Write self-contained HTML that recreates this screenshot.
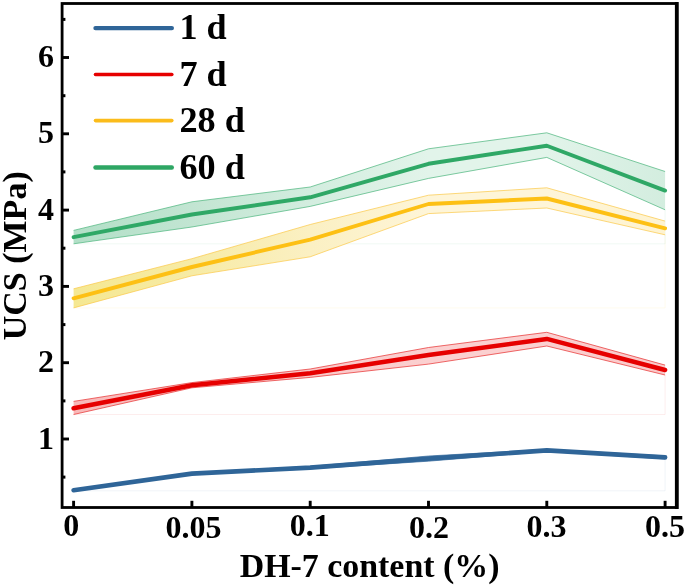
<!DOCTYPE html>
<html><head><meta charset="utf-8"><title>UCS vs DH-7 content</title>
<style>
html,body{margin:0;padding:0;background:#fff;}
body{width:685px;height:587px;overflow:hidden;}
svg{display:block;}
text{font-family:"Liberation Serif","DejaVu Serif",serif;font-weight:bold;fill:#000;}
</style></head><body>
<svg width="685" height="587" viewBox="0 0 685 587">
<rect x="0" y="0" width="685" height="587" fill="#ffffff"/>

<defs>
<linearGradient id="g_green" gradientUnits="userSpaceOnUse" x1="73.6" y1="0" x2="665.1" y2="0">
<stop offset="0.0" stop-color="rgb(178,223,199)"/>
<stop offset="0.2" stop-color="rgb(194,229,210)"/>
<stop offset="0.4" stop-color="rgb(211,237,223)"/>
<stop offset="0.6" stop-color="rgb(226,244,234)"/>
<stop offset="0.8" stop-color="rgb(226,244,234)"/>
<stop offset="1.0" stop-color="rgb(211,237,223)"/>
</linearGradient>
<linearGradient id="g_yellow" gradientUnits="userSpaceOnUse" x1="73.6" y1="0" x2="665.1" y2="0">
<stop offset="0.0" stop-color="rgb(245,232,146)"/>
<stop offset="0.2" stop-color="rgb(247,235,165)"/>
<stop offset="0.4" stop-color="rgb(251,240,195)"/>
<stop offset="0.6" stop-color="rgb(254,245,216)"/>
<stop offset="0.8" stop-color="rgb(254,245,216)"/>
<stop offset="1.0" stop-color="rgb(254,243,208)"/>
</linearGradient>
<linearGradient id="g_red" gradientUnits="userSpaceOnUse" x1="73.6" y1="0" x2="665.1" y2="0">
<stop offset="0.0" stop-color="rgb(248,185,185)"/>
<stop offset="0.2" stop-color="rgb(249,195,195)"/>
<stop offset="0.4" stop-color="rgb(250,200,200)"/>
<stop offset="0.6" stop-color="rgb(251,208,208)"/>
<stop offset="0.8" stop-color="rgb(251,208,208)"/>
<stop offset="1.0" stop-color="rgb(250,200,200)"/>
</linearGradient>
<linearGradient id="g_blue" gradientUnits="userSpaceOnUse" x1="73.6" y1="0" x2="665.1" y2="0">
<stop offset="0.0" stop-color="rgb(150,180,210)"/>
<stop offset="0.2" stop-color="rgb(150,180,210)"/>
<stop offset="0.4" stop-color="rgb(150,180,210)"/>
<stop offset="0.6" stop-color="rgb(150,180,210)"/>
<stop offset="0.8" stop-color="rgb(150,180,210)"/>
<stop offset="1.0" stop-color="rgb(150,180,210)"/>
</linearGradient>
</defs>
<polyline points="73.6,243.8 665.1,243.8 665.1,209.8" fill="none" stroke="#2fa866" stroke-opacity="0.07" stroke-width="1"/>
<polygon points="73.6,230.4 191.9,201.8 310.2,187.0 428.5,148.8 546.8,132.8 665.1,171.5 665.1,209.8 546.8,157.4 428.5,178.4 310.2,206.4 191.9,227.0 73.6,243.8" fill="url(#g_green)" stroke="none"/>
<polyline points="73.6,230.4 191.9,201.8 310.2,187.0 428.5,148.8 546.8,132.8 665.1,171.5" fill="none" stroke="#4db57d" stroke-opacity="0.9" stroke-width="0.8"/>
<polyline points="73.6,243.8 191.9,227.0 310.2,206.4 428.5,178.4 546.8,157.4 665.1,209.8" fill="none" stroke="#4db57d" stroke-opacity="0.9" stroke-width="0.8"/>
<polyline points="73.6,237.2 191.9,214.5 310.2,197.3 428.5,163.8 546.8,145.7 665.1,190.6" fill="none" stroke="#2fa866" stroke-width="3.9" stroke-linecap="round" stroke-linejoin="round"/>
<polyline points="73.6,307.9 665.1,307.9 665.1,234.8" fill="none" stroke="#fdc014" stroke-opacity="0.07" stroke-width="1"/>
<polygon points="73.6,288.8 191.9,258.7 310.2,224.5 428.5,195.2 546.8,187.8 665.1,221.1 665.1,234.8 546.8,208.0 428.5,213.6 310.2,256.8 191.9,275.8 73.6,307.9" fill="url(#g_yellow)" stroke="none"/>
<polyline points="73.6,288.8 191.9,258.7 310.2,224.5 428.5,195.2 546.8,187.8 665.1,221.1" fill="none" stroke="#fbc84a" stroke-opacity="0.9" stroke-width="0.8"/>
<polyline points="73.6,307.9 191.9,275.8 310.2,256.8 428.5,213.6 546.8,208.0 665.1,234.8" fill="none" stroke="#fbc84a" stroke-opacity="0.9" stroke-width="0.8"/>
<polyline points="73.6,298.3 191.9,267.0 310.2,239.6 428.5,204.0 546.8,198.5 665.1,228.3" fill="none" stroke="#fdc014" stroke-width="3.9" stroke-linecap="round" stroke-linejoin="round"/>
<polyline points="73.6,414.5 665.1,414.5 665.1,375.0" fill="none" stroke="#e60000" stroke-opacity="0.07" stroke-width="1"/>
<polygon points="73.6,401.4 191.9,382.6 310.2,369.0 428.5,347.5 546.8,332.3 665.1,365.1 665.1,375.0 546.8,346.0 428.5,364.1 310.2,377.4 191.9,387.8 73.6,414.5" fill="url(#g_red)" stroke="none"/>
<polyline points="73.6,401.4 191.9,382.6 310.2,369.0 428.5,347.5 546.8,332.3 665.1,365.1" fill="none" stroke="#e83030" stroke-opacity="0.9" stroke-width="0.8"/>
<polyline points="73.6,414.5 191.9,387.8 310.2,377.4 428.5,364.1 546.8,346.0 665.1,375.0" fill="none" stroke="#e83030" stroke-opacity="0.9" stroke-width="0.8"/>
<polyline points="73.6,408.2 191.9,385.2 310.2,373.2 428.5,355.0 546.8,338.9 665.1,370.0" fill="none" stroke="#e60000" stroke-width="4.5" stroke-linecap="round" stroke-linejoin="round"/>
<polyline points="73.6,490.8 665.1,490.8 665.1,458.9" fill="none" stroke="#2f6598" stroke-opacity="0.07" stroke-width="1"/>
<polygon points="73.6,489.6 191.9,472.6 310.2,466.4 428.5,456.0 546.8,449.4 665.1,455.9 665.1,458.9 546.8,451.4 428.5,461.2 310.2,468.8 191.9,474.6 73.6,490.8" fill="url(#g_blue)" stroke="none"/>
<polyline points="73.6,489.6 191.9,472.6 310.2,466.4 428.5,456.0 546.8,449.4 665.1,455.9" fill="none" stroke="#2f6598" stroke-opacity="0.85" stroke-width="0.8"/>
<polyline points="73.6,490.8 191.9,474.6 310.2,468.8 428.5,461.2 546.8,451.4 665.1,458.9" fill="none" stroke="#2f6598" stroke-opacity="0.85" stroke-width="0.8"/>
<polyline points="73.6,490.2 191.9,473.6 310.2,467.6 428.5,458.6 546.8,450.4 665.1,457.4" fill="none" stroke="#2f6598" stroke-width="4.6" stroke-linecap="round" stroke-linejoin="round"/>
<g stroke="#000" fill="none">
<rect x="62.1" y="3.5" width="615" height="504" stroke-width="2.8"/>
<line x1="676.7" y1="2.1" x2="676.7" y2="508.9" stroke-width="3.6"/>
<line x1="63" y1="439.0" x2="69" y2="439.0" stroke-width="2.9"/>
<line x1="63" y1="362.7" x2="69" y2="362.7" stroke-width="2.9"/>
<line x1="63" y1="286.4" x2="69" y2="286.4" stroke-width="2.9"/>
<line x1="63" y1="210.1" x2="69" y2="210.1" stroke-width="2.9"/>
<line x1="63" y1="133.8" x2="69" y2="133.8" stroke-width="2.9"/>
<line x1="63" y1="57.5" x2="69" y2="57.5" stroke-width="2.9"/>
<line x1="63" y1="477.1" x2="65.4" y2="477.1" stroke-width="3"/>
<line x1="63" y1="400.9" x2="65.4" y2="400.9" stroke-width="3"/>
<line x1="63" y1="324.6" x2="65.4" y2="324.6" stroke-width="3"/>
<line x1="63" y1="248.2" x2="65.4" y2="248.2" stroke-width="3"/>
<line x1="63" y1="171.9" x2="65.4" y2="171.9" stroke-width="3"/>
<line x1="63" y1="95.7" x2="65.4" y2="95.7" stroke-width="3"/>
<line x1="63" y1="19.4" x2="65.4" y2="19.4" stroke-width="3"/>
<line x1="73.6" y1="507" x2="73.6" y2="500.8" stroke-width="2.9"/>
<line x1="191.9" y1="507" x2="191.9" y2="500.8" stroke-width="2.9"/>
<line x1="310.2" y1="507" x2="310.2" y2="500.8" stroke-width="2.9"/>
<line x1="428.5" y1="507" x2="428.5" y2="500.8" stroke-width="2.9"/>
<line x1="546.8" y1="507" x2="546.8" y2="500.8" stroke-width="2.9"/>
<line x1="665.1" y1="507" x2="665.1" y2="500.8" stroke-width="2.9"/>
</g>
<text x="53.9" y="448.6" font-size="32" text-anchor="end">1</text>
<text x="53.9" y="371.8" font-size="32" text-anchor="end">2</text>
<text x="53.9" y="295.6" font-size="32" text-anchor="end">3</text>
<text x="53.9" y="219.5" font-size="32" text-anchor="end">4</text>
<text x="53.9" y="143.1" font-size="32" text-anchor="end">5</text>
<text x="53.9" y="66.6" font-size="32" text-anchor="end">6</text>
<text x="71.3" y="536.3" font-size="32" text-anchor="middle">0</text>
<text x="193.4" y="538.0" font-size="32" text-anchor="middle">0.05</text>
<text x="309.7" y="536.3" font-size="32" text-anchor="middle">0.1</text>
<text x="429.0" y="538.0" font-size="32" text-anchor="middle">0.2</text>
<text x="546.5" y="537.4" font-size="32" text-anchor="middle">0.3</text>
<text x="664.9" y="537.4" font-size="32" text-anchor="middle">0.5</text>
<text x="369.6" y="576.5" font-size="33.9" text-anchor="middle">DH-7 content (%)</text>
<text transform="translate(26.2,255.8) rotate(-90)" font-size="34" text-anchor="middle">UCS (MPa)</text>
<line x1="95.5" y1="28.1" x2="171.8" y2="28.1" stroke="#2f6598" stroke-width="4.4" stroke-linecap="round"/>
<text x="179.4" y="39.2" font-size="36.2">1 d</text>
<line x1="95.5" y1="74.5" x2="171.8" y2="74.5" stroke="#e60000" stroke-width="3.6" stroke-linecap="round"/>
<text x="179.4" y="85.6" font-size="36.2">7 d</text>
<line x1="95.5" y1="120.6" x2="171.8" y2="120.6" stroke="#fbbc1b" stroke-width="3.6" stroke-linecap="round"/>
<text x="179.4" y="131.7" font-size="36.2">28 d</text>
<line x1="95.5" y1="167.5" x2="171.8" y2="167.5" stroke="#2ea664" stroke-width="4.4" stroke-linecap="round"/>
<text x="179.4" y="178.9" font-size="36.2">60 d</text>
</svg></body></html>
